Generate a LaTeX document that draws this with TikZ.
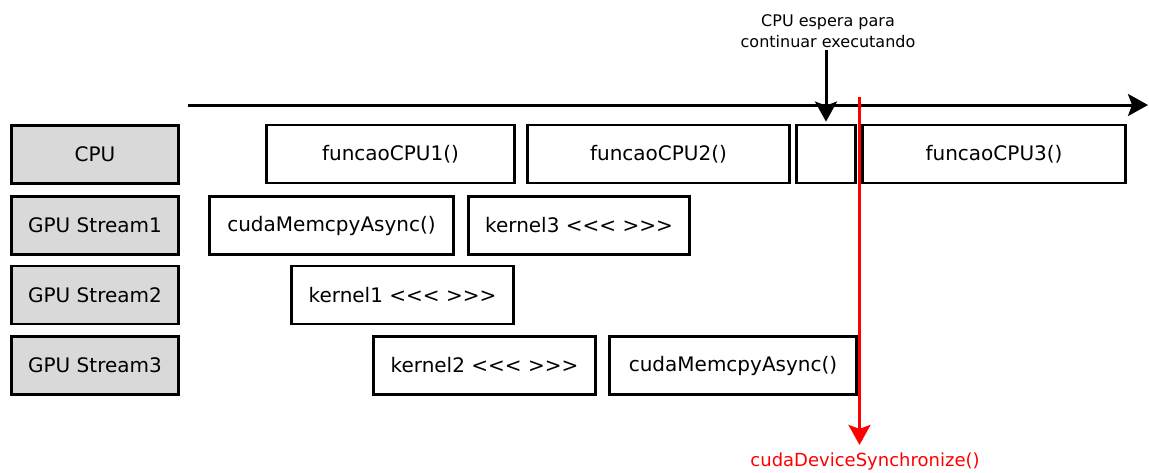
\documentclass[tikz,border=0pt]{standalone}
\usepackage{fontspec}
\setmainfont{DejaVu Sans}
\usetikzlibrary{arrows.meta}
\definecolor{lanegray}{gray}{0.85}
\begin{document}
\begin{tikzpicture}[x=0.5pt,y=-0.5pt,>={Stealth[length=10pt,width=11pt,inset=2pt]},
    faixa/.style={draw,line width=1.4pt,fill=lanegray,minimum width=83.5pt,minimum height=29pt,font=\fontsize{10}{12}\selectfont},
    tarefa/.style={draw,line width=1.4pt,minimum height=29pt,font=\fontsize{10}{12}\selectfont},
    ]
        \useasboundingbox (0,0) rectangle (1149,472);
        % faixas
        \node[faixa] (cpu) at (95,154.5) {CPU};
        \node[faixa] (s1) at (95,225.5) {GPU Stream1};
        \node[faixa] (s2) at (95,295) {GPU Stream2};
        \node[faixa] (s3) at (95,365.5) {GPU Stream3};
        % CPU
        \node[tarefa,minimum width=124pt] (f1) at (390.5,154) {funcaoCPU1()};
        \node[tarefa,minimum width=131pt] (f2) at (658.5,154) {funcaoCPU2()};
        \node[tarefa,minimum width=29.5pt] (vazio) at (826,154) {};
        \node[tarefa,minimum width=131.5pt] (f3) at (994,154) {funcaoCPU3()};
        % streams
        \node[tarefa,minimum width=122pt] (m1) at (331.5,225.5) {cudaMemcpyAsync()};
        \node[tarefa,minimum width=110.5pt] (k3) at (579,225.5) {kernel3 <{}<{}< >{}>{}>};
        \node[tarefa,minimum width=111pt] (k1) at (402.5,295) {kernel1 <{}<{}< >{}>{}>};
        \node[tarefa,minimum width=111pt] (k2) at (484.5,365.5) {kernel2 <{}<{}< >{}>{}>};
        \node[tarefa,minimum width=123.5pt] (m3) at (733,365.5) {cudaMemcpyAsync()};
        % tempo
        \coordinate (t0) at (188,105);
        \coordinate (t1) at (1148,105);
        \draw[->,line width=1.5pt] (t0)--(t1);
        \node[align=center,font=\fontsize{8}{10.5}\selectfont,inner sep=1pt] (espera) at (828,31) {CPU espera para\\continuar executando};
        \draw[->,line width=1.5pt,shorten >=1pt] (vazio.north|-espera.south)--(vazio.north);
        % sincronizacao
        \coordinate (sync0) at (859.5,97);
        \node[red,font=\fontsize{9}{11}\selectfont,inner sep=1pt] (sync) at (865,462) {cudaDeviceSynchronize()};
        \draw[->,red,line width=1.5pt,shorten >=3pt] (sync0)--(sync0|-sync.north);
    \end{tikzpicture}
\end{document}
